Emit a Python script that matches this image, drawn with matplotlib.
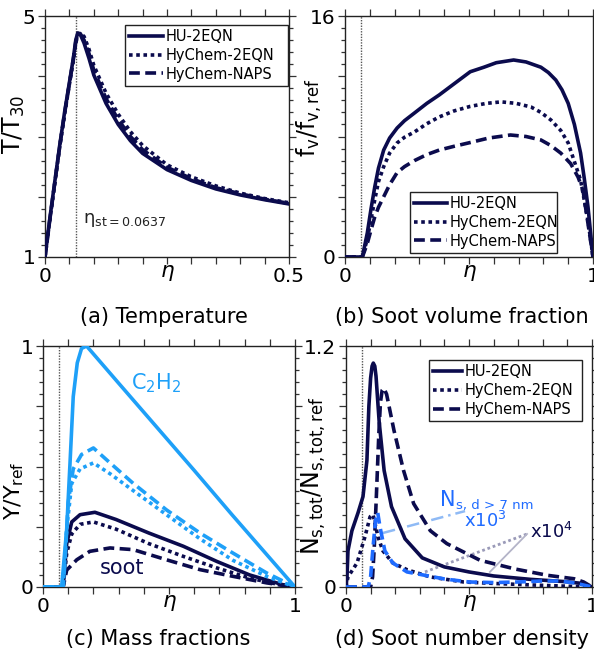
import matplotlib
matplotlib.use("Agg")
import matplotlib.pyplot as plt
from matplotlib.ticker import FixedLocator, FuncFormatter
import numpy as np

plt.rcParams['font.family'] = ['DejaVu Sans']
plt.rcParams['mathtext.fontset'] = 'dejavusans'

NAVY = '#0b0b4d'
CYAN = '#1ea0f8'
BLUE = '#1f6bff'

eta_st = 0.0637
labels = ['HU-2EQN', 'HyChem-2EQN', 'HyChem-NAPS']

# (a) Temperature
eta_a = [0, 0.01, 0.02, 0.03, 0.04, 0.05, 0.058, 0.063, 0.067, 0.072, 0.08, 0.09, 0.1, 0.125,
         0.15, 0.175, 0.2, 0.25, 0.3, 0.35, 0.4, 0.45, 0.5]
T_hu = [1.0, 1.65, 2.25, 2.85, 3.4, 3.9, 4.3, 4.6, 4.72, 4.7, 4.55, 4.3, 4.02, 3.55,
        3.2, 2.93, 2.72, 2.45, 2.27, 2.13, 2.03, 1.95, 1.88]
T_2eqn = [1.0, 1.62, 2.22, 2.82, 3.36, 3.87, 4.26, 4.55, 4.68, 4.72, 4.66, 4.45, 4.18, 3.72,
          3.37, 3.08, 2.85, 2.53, 2.33, 2.18, 2.06, 1.97, 1.9]
T_naps = [1.0, 1.63, 2.23, 2.83, 3.38, 3.88, 4.28, 4.57, 4.7, 4.71, 4.6, 4.38, 4.1, 3.63,
          3.28, 3.0, 2.78, 2.49, 2.3, 2.15, 2.05, 1.96, 1.89]

# (b) Soot volume fraction
eta_b_hu = [0, 0.07, 0.09, 0.105, 0.12, 0.135, 0.156, 0.18, 0.21, 0.24, 0.28, 0.33, 0.38,
            0.44, 0.505, 0.56, 0.61, 0.68, 0.73, 0.79, 0.82, 0.85, 0.875, 0.90, 0.925,
            0.95, 0.965, 0.98, 1.0]
fv_hu = [0, 0, 1.6, 3.2, 4.65, 5.9, 7.1, 7.9, 8.56, 9.05, 9.56, 10.2, 10.76,
         11.5, 12.3, 12.6, 12.9, 13.08, 12.95, 12.6, 12.25, 11.75, 11.1, 10.2, 8.8,
         6.9, 5.2, 3.3, 0]
eta_b_2eqn = [0, 0.07, 0.09, 0.105, 0.12, 0.135, 0.156, 0.18, 0.21, 0.24, 0.28, 0.33, 0.38,
              0.44, 0.505, 0.57, 0.63, 0.69, 0.75, 0.79, 0.83, 0.87, 0.9, 0.95, 0.98, 1.0]
fv_2eqn = [0, 0, 1.2, 2.5, 3.8, 5.0, 6.0, 6.9, 7.57, 7.95, 8.3, 8.85, 9.3,
           9.7, 10.0, 10.2, 10.3, 10.2, 9.96, 9.6, 9.1, 8.4, 7.57, 5.1, 2.4, 0]
eta_b_naps = [0, 0.07, 0.09, 0.105, 0.12, 0.135, 0.156, 0.18, 0.21, 0.24, 0.28, 0.33, 0.38,
              0.44, 0.505, 0.58, 0.667, 0.73, 0.79, 0.83, 0.87, 0.91, 0.94, 0.96, 0.98, 1.0]
fv_naps = [0, 0, 0.9, 1.8, 2.66, 3.3, 4.0, 4.8, 5.6, 6.0, 6.4, 6.8, 7.1,
           7.35, 7.6, 7.9, 8.1, 8.0, 7.77, 7.4, 6.9, 6.2, 5.3, 4.4, 2.2, 0]

# (c) Mass fractions
eta_c2h2_hu = [0, 0.074, 0.094, 0.107, 0.12, 0.136, 0.153, 0.173, 0.3, 0.45, 0.6, 0.75, 0.9, 1.0]
y_c2h2_hu = [0, 0, 0.24, 0.51, 0.79, 0.93, 0.99, 1.0, 0.846, 0.665, 0.484, 0.30, 0.12, 0]
eta_c2h2_naps = [0, 0.08, 0.087, 0.1, 0.12, 0.153, 0.2, 0.266, 0.358, 0.49, 0.623, 0.755, 0.888, 1.0]
y_c2h2_naps = [0, 0, 0.1, 0.35, 0.49, 0.55, 0.577, 0.515, 0.43, 0.32, 0.224, 0.14, 0.058, 0]
eta_c2h2_2eqn = [0, 0.08, 0.094, 0.114, 0.147, 0.2, 0.266, 0.358, 0.49, 0.623, 0.755, 0.888, 1.0]
y_c2h2_2eqn = [0, 0, 0.24, 0.43, 0.49, 0.515, 0.47, 0.40, 0.30, 0.2, 0.11, 0.044, 0]

eta_soot_hu = [0, 0.08, 0.094, 0.114, 0.147, 0.206, 0.29, 0.42, 0.557, 0.69, 0.82, 0.95, 1.0]
y_soot_hu = [0, 0, 0.18, 0.27, 0.30, 0.31, 0.28, 0.224, 0.169, 0.106, 0.05, 0.01, 0]
eta_soot_2eqn = [0, 0.08, 0.094, 0.114, 0.147, 0.2, 0.29, 0.42, 0.557, 0.69, 0.82, 0.95, 1.0]
y_soot_2eqn = [0, 0, 0.14, 0.22, 0.26, 0.27, 0.24, 0.18, 0.127, 0.079, 0.037, 0.007, 0]
eta_soot_naps = [0, 0.08, 0.094, 0.134, 0.186, 0.266, 0.358, 0.49, 0.623, 0.755, 0.888, 1.0]
y_soot_naps = [0, 0, 0.07, 0.113, 0.148, 0.162, 0.155, 0.113, 0.072, 0.044, 0.017, 0]

# (d) Soot number density
eta_d_hu = [0, 0.004, 0.008, 0.024, 0.049, 0.069, 0.085, 0.093, 0.1, 0.106, 0.111, 0.117,
            0.122, 0.135, 0.155, 0.185, 0.24, 0.31, 0.4, 0.5, 0.6, 0.75, 0.9, 0.97, 1.0]
N_hu = [0, 0.05, 0.18, 0.28, 0.37, 0.45, 0.63, 0.9, 1.04, 1.10, 1.115, 1.10,
        1.05, 0.82, 0.58, 0.40, 0.24, 0.145, 0.10, 0.075, 0.055, 0.038, 0.026, 0.016, 0]
eta_d_2eqn = [0, 0.008, 0.045, 0.077, 0.098, 0.11, 0.13, 0.15, 0.19, 0.25, 0.343,
              0.478, 0.614, 0.8, 1.0]
N_2eqn = [0, 0.05, 0.12, 0.25, 0.35, 0.36, 0.25, 0.18, 0.12, 0.085, 0.05,
          0.025, 0.017, 0.008, 0]
eta_d_naps = [0, 0.1, 0.108, 0.115, 0.125, 0.133, 0.14, 0.147, 0.154, 0.165, 0.195, 0.234,
              0.275, 0.343, 0.41, 0.545, 0.686, 0.82, 0.927, 0.966, 1.0]
N_naps = [0, 0, 0.05, 0.2, 0.5, 0.75, 0.92, 0.98, 0.99, 0.96, 0.78, 0.58,
          0.415, 0.28, 0.216, 0.133, 0.09, 0.058, 0.041, 0.025, 0]
eta_d_big = [0, 0.09, 0.1, 0.11, 0.12, 0.129, 0.138, 0.158, 0.19, 0.248, 0.313, 0.4,
             0.5, 0.6, 0.7, 0.8, 0.87, 0.93, 1.0]
N_big = [0, 0, 0.05, 0.2, 0.33, 0.37, 0.3, 0.18, 0.12, 0.075, 0.06, 0.04,
         0.025, 0.022, 0.025, 0.03, 0.03, 0.02, 0]

LW = 2.6
DOT = (0, (1, 1))
DASH = (0, (3, 1.5))
DASHDOT = (0, (5, 2, 1, 2))

fig = plt.figure(figsize=(5.94, 6.62), dpi=100)
ax_a = fig.add_axes([0.0758, 0.6118, 0.4108, 0.364])
ax_b = fig.add_axes([0.5808, 0.6118, 0.4175, 0.364])
ax_c = fig.add_axes([0.0724, 0.1133, 0.4242, 0.364])
ax_d = fig.add_axes([0.5825, 0.1133, 0.4141, 0.364])


def style(ax, xlim, ylim, xstep, ymaj, ymin, xlab, ylab):
    ax.set_xlim(*xlim)
    ax.set_ylim(*ylim)
    xt = np.round(np.arange(xlim[0], xlim[1] + 1e-9, xstep), 6)
    ax.xaxis.set_major_locator(FixedLocator(xt))
    ax.xaxis.set_major_formatter(FuncFormatter(
        lambda v, p: xlab[0] if abs(v - xlim[0]) < 1e-9 else (xlab[1] if abs(v - xlim[1]) < 1e-9 else '')))
    yt = np.round(np.arange(ylim[0], ylim[1] + 1e-9, ymaj), 6)
    ytm = np.round(np.arange(ylim[0], ylim[1] + 1e-9, ymin), 6)
    ax.yaxis.set_major_locator(FixedLocator(yt))
    ax.yaxis.set_minor_locator(FixedLocator(ytm))
    ax.yaxis.set_major_formatter(FuncFormatter(
        lambda v, p: ylab[0] if abs(v - ylim[0]) < 1e-9 else (ylab[1] if abs(v - ylim[1]) < 1e-9 else '')))
    ax.tick_params(which='both', direction='out', top=True, right=True,
                   labelsize=14.5, width=0.9, color='#333333')
    ax.tick_params(which='major', length=5, pad=2)
    ax.tick_params(which='minor', length=3)
    for s in ax.spines.values():
        s.set_linewidth(1.0)
        s.set_color('#222222')
    ax.text(0.5, -0.025, r'$\eta$', transform=ax.transAxes, ha='center', va='top',
            fontsize=15.5)
    ax.axvline(eta_st, color='#555555', lw=1.0, ls=(0, (1, 1)), zorder=1)


def legend(ax, bbox, loc, hl):
    leg = ax.legend(fontsize=10.5, frameon=True, fancybox=False, framealpha=1,
                    edgecolor='#222222', handlelength=hl, handletextpad=0.2,
                    labelspacing=0.25, borderpad=0.3, borderaxespad=0,
                    loc=loc, bbox_to_anchor=bbox, mode='expand')
    leg.get_frame().set_linewidth(1.0)


YL = 17

# (a)
style(ax_a, (0, 0.5), (1, 5), 0.05, 1, 0.2, ('0', '0.5'), ('1', '5'))
ax_a.plot(eta_a, T_hu, color=NAVY, lw=LW, label=labels[0], zorder=3)
ax_a.plot(eta_a, T_2eqn, color=NAVY, lw=LW, ls=DOT, label=labels[1], zorder=3)
ax_a.plot(eta_a, T_naps, color=NAVY, lw=LW, ls=DASH, label=labels[2], zorder=3)
ax_a.set_ylabel('T/T$_{30}$', fontsize=YL)
ax_a.yaxis.set_label_coords(-0.075, 0.55)
ax_a.text(0.078, 1.61, 'η$_{\\mathrm{st=0.0637}}$', fontsize=13, color='#222222',
          ha='left', va='center')
legend(ax_a, (0.328, 0.5, 0.668, 0.463), 'upper left', 2.3)

# (b)
style(ax_b, (0, 1), (0, 16), 0.1, 4, 0.8, ('0', '1'), ('0', '16'))
ax_b.plot(eta_b_hu, fv_hu, color=NAVY, lw=LW, label=labels[0], zorder=3)
ax_b.plot(eta_b_2eqn, fv_2eqn, color=NAVY, lw=LW, ls=DOT, label=labels[1], zorder=3)
ax_b.plot(eta_b_naps, fv_naps, color=NAVY, lw=LW, ls=DASH, label=labels[2], zorder=3)
ax_b.set_ylabel('f$_{\\mathrm{v}}$/f$_{\\mathrm{v,ref}}$', fontsize=YL)
ax_b.yaxis.set_label_coords(-0.085, 0.58)
legend(ax_b, (0.262, 0.017, 0.593, 0.3), 'lower left', 2.25)

# (c)
style(ax_c, (0, 1), (0, 1), 0.1, 0.25, 0.05, ('0', '1'), ('0', '1'))
ax_c.plot(eta_soot_hu, y_soot_hu, color=NAVY, lw=LW, zorder=3)
ax_c.plot(eta_soot_2eqn, y_soot_2eqn, color=NAVY, lw=LW, ls=DOT, zorder=3)
ax_c.plot(eta_soot_naps, y_soot_naps, color=NAVY, lw=LW, ls=DASH, zorder=3)
ax_c.plot(eta_c2h2_hu, y_c2h2_hu, color=CYAN, lw=LW, zorder=4)
ax_c.plot(eta_c2h2_2eqn, y_c2h2_2eqn, color=CYAN, lw=LW, ls=DOT, zorder=4)
ax_c.plot(eta_c2h2_naps, y_c2h2_naps, color=CYAN, lw=LW, ls=DASH, zorder=4)
ax_c.set_ylabel('Y/Y$_{\\mathrm{ref}}$', fontsize=16)
ax_c.yaxis.set_label_coords(-0.066, 0.40)
ax_c.text(0.45, 0.845, 'C$_2$H$_2$', color=CYAN, fontsize=15, ha='center', va='center')
ax_c.text(0.315, 0.08, 'soot', color=NAVY, fontsize=15, ha='center', va='center')

# (d)
style(ax_d, (0, 1), (0, 1.2), 0.1, 0.3, 0.06, ('0', '1'), ('0', '1.2'))
ax_d.plot(eta_d_hu, N_hu, color=NAVY, lw=LW, label=labels[0], zorder=3)
ax_d.plot(eta_d_2eqn, N_2eqn, color=NAVY, lw=LW, ls=DOT, label=labels[1], zorder=3)
ax_d.plot(eta_d_naps, N_naps, color=NAVY, lw=LW, ls=DASH, label=labels[2], zorder=3)
ax_d.plot(eta_d_big, N_big, color=BLUE, lw=LW, ls=DASH, zorder=4)
# annotation pointer lines
ax_d.plot([0.150, 0.484], [0.269, 0.378], color='#8fbaf5', lw=1.8, ls=DASHDOT, zorder=2)
ax_d.plot([0.321, 0.736], [0.075, 0.264], color='#9a9ab8', lw=2.0, ls=(0, (1, 1)), zorder=2)
ax_d.plot([0.585, 0.736], [0.075, 0.264], color='#b4b4c8', lw=1.3, zorder=2)
ax_d.text(0.382, 0.405, 'N', color=BLUE, fontsize=15, ha='left', va='baseline')
ax_d.annotate('s, d > 7 nm', xy=(0.382, 0.405), xytext=(11.5, -2.5),
              textcoords='offset points', color=BLUE, fontsize=9.5,
              ha='left', va='baseline')
ax_d.text(0.48, 0.297, 'x10$^3$', color=BLUE, fontsize=13, ha='left', va='baseline')
ax_d.text(0.748, 0.244, 'x10$^4$', color=NAVY, fontsize=13, ha='left', va='baseline')
ax_d.set_ylabel('N$_{\\mathrm{s,tot}}$/N$_{\\mathrm{s,tot,ref}}$', fontsize=YL)
ax_d.yaxis.set_label_coords(-0.072, 0.46)
legend(ax_d, (0.337, 0.5, 0.622, 0.442), 'upper left', 1.95)

# captions
fig.text(164 / 594, 1 - 317 / 662, '(a) Temperature', ha='center', va='center', fontsize=15)
fig.text(462 / 594, 1 - 317 / 662, '(b) Soot volume fraction', ha='center', va='center', fontsize=15)
fig.text(158 / 594, 1 - 639 / 662, '(c) Mass fractions', ha='center', va='center', fontsize=15)
fig.text(462 / 594, 1 - 639 / 662, '(d) Soot number density', ha='center', va='center', fontsize=15)

fig.savefig('out.png', dpi=100)
